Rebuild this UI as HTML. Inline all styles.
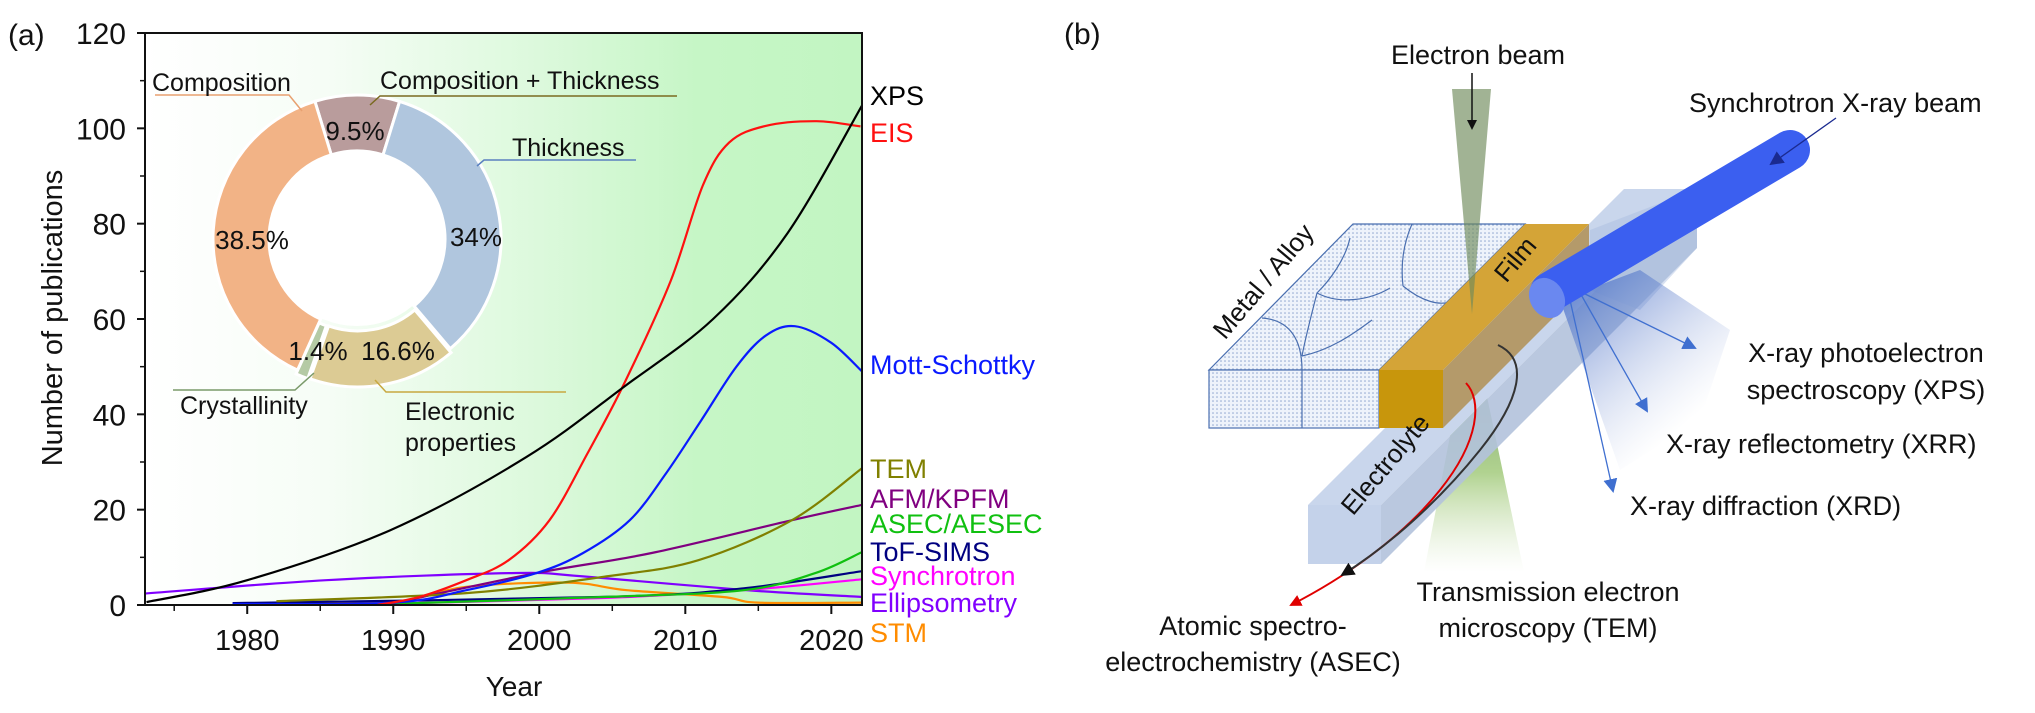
<!DOCTYPE html>
<html><head><meta charset="utf-8">
<style>
html,body{margin:0;padding:0;background:#fff;}
svg{display:block;font-family:"Liberation Sans",Arial,sans-serif;}
</style></head>
<body>
<svg id="fig" width="2035" height="713" viewBox="0 0 2035 713" xmlns="http://www.w3.org/2000/svg">
<defs id="mainDefs">
<linearGradient id="bgGrad" x1="145" y1="0" x2="862" y2="0" gradientUnits="userSpaceOnUse">
<stop offset="0" stop-color="#ffffff"/>
<stop offset="0.25" stop-color="#f6fdf6"/>
<stop offset="0.55" stop-color="#dcf9dc"/>
<stop offset="0.77" stop-color="#c6f6c6"/>
<stop offset="1" stop-color="#c2f5c2"/>
</linearGradient>
<clipPath id="plotClip"><rect x="145" y="33" width="717" height="572"/></clipPath>
<pattern id="dots" width="4" height="4" patternUnits="userSpaceOnUse">
<rect width="4" height="4" fill="#eef3fb"/><circle cx="1" cy="1" r="0.8" fill="#8fa6cf"/>
</pattern>
<linearGradient id="temGrad" x1="0" y1="373" x2="0" y2="572" gradientUnits="userSpaceOnUse">
<stop offset="0" stop-color="#5a8a4a" stop-opacity="0.8"/>
<stop offset="0.5" stop-color="#8fbf60" stop-opacity="0.7"/>
<stop offset="1" stop-color="#c8e0b0" stop-opacity="0"/>
</linearGradient>
<linearGradient id="fanGrad" x1="1579" y1="291" x2="1690" y2="420" gradientUnits="userSpaceOnUse">
<stop offset="0" stop-color="#4a70c8" stop-opacity="0.7"/>
<stop offset="1" stop-color="#a8b8e0" stop-opacity="0"/>
</linearGradient>
<marker id="arrBlack" markerWidth="10" markerHeight="10" refX="8" refY="5" orient="auto" markerUnits="userSpaceOnUse"><path d="M0,0 L10,5 L0,10 z" fill="#111"/></marker>
<marker id="arrRed" markerWidth="12" markerHeight="12" refX="10" refY="6" orient="auto" markerUnits="userSpaceOnUse"><path d="M0,0 L12,6 L0,12 z" fill="#e00000"/></marker>
<marker id="arrDk" markerWidth="14" markerHeight="14" refX="12" refY="7" orient="auto" markerUnits="userSpaceOnUse"><path d="M0,0 L14,7 L0,14 z" fill="#111"/></marker>
<marker id="arrBlue" markerWidth="14" markerHeight="14" refX="12" refY="7" orient="auto" markerUnits="userSpaceOnUse"><path d="M0,0 L14,7 L0,14 z" fill="#3f6fd0"/></marker>
<marker id="arrNavy" markerWidth="14" markerHeight="14" refX="12" refY="7" orient="auto" markerUnits="userSpaceOnUse"><path d="M0,0 L14,7 L0,14 z" fill="#1a2a90"/></marker>
</defs>

<g id="panelA">
<text x="8" y="45" font-size="30" fill="#111">(a)</text>
<rect x="145" y="33" width="717" height="572" fill="url(#bgGrad)"/>
<g id="gCurves" clip-path="url(#plotClip)"></g>
<g id="gDonut"></g>
<rect x="145" y="33" width="717" height="572" fill="none" stroke="#111" stroke-width="2"/>
<g id="gAxes"></g>
<text x="0" y="0" transform="translate(62,318) rotate(-90)" text-anchor="middle" font-size="29" fill="#111">Number of publications</text>
<text x="514" y="696" text-anchor="middle" font-size="28" fill="#111">Year</text>
<g id="gLabels"></g>
<text id="errText" x="150" y="700" font-size="14" fill="#c00"></text>
</g>

<g id="panelB">
<text x="1064" y="44" font-size="30" fill="#111">(b)</text>
<text x="1478" y="64" text-anchor="middle" font-size="27" fill="#111">Electron beam</text>
<polygon points="1462,373 1482,373 1524,572 1424,572" fill="url(#temGrad)"/>
<polygon points="1308,505 1381,505 1697,189 1624,189" fill="#c9d6ec"/>
<polygon points="1381,505 1697,189 1697,248 1381,564" fill="#b3c2dc" opacity="0.9"/>
<rect x="1308" y="505" width="73" height="59" fill="#c4d2ea"/>
<polygon points="1590,230 1697,189 1697,248 1640,310 1590,290" fill="#a9bde0" opacity="0.45"/>
<polygon points="1353,224 1525,224 1379,370 1209,370" fill="url(#dots)" stroke="#4a6fb0" stroke-width="1.2"/>
<rect x="1209" y="370" width="170" height="58" fill="url(#dots)" stroke="#4a6fb0" stroke-width="1.2"/>
<line x1="1302" y1="370" x2="1302" y2="428" stroke="#4a6fb0" stroke-width="1.2"/>
<g fill="none" stroke="#4a6fb0" stroke-width="1.2">
<path d="M1302,370 C1302,340 1290,320 1262,318"/>
<path d="M1302,356 C1330,350 1352,335 1372,320"/>
<path d="M1317,293 C1340,305 1370,300 1390,288"/>
<path d="M1317,293 C1310,320 1305,340 1302,356"/>
<path d="M1403,286 C1400,260 1405,240 1412,224"/>
<path d="M1403,286 C1420,300 1440,308 1455,300"/>
<path d="M1350,238 C1345,260 1330,280 1317,293"/>
</g>
<polygon points="1525,224 1589,224 1443,370 1379,370" fill="#d4a437"/>
<polygon points="1443,370 1589,224 1589,282 1443,428" fill="#b49a6a"/>
<rect x="1379" y="370" width="64" height="58" fill="#c8960c"/>
<polygon points="1452,89 1491,89 1472,314" fill="#6f8a5a" opacity="0.65"/>
<line x1="1472" y1="73" x2="1472" y2="128" stroke="#111" stroke-width="1.5" marker-end="url(#arrBlack)"/>
<path d="M1466,383 C1482,400 1480,440 1440,490 C1400,540 1340,580 1291,605" fill="none" stroke="#e00000" stroke-width="2" marker-end="url(#arrRed)"/>
<path d="M1498,345 C1530,360 1520,400 1480,450 C1440,500 1390,545 1342,575" fill="none" stroke="#333" stroke-width="2" marker-end="url(#arrDk)"/>
<polygon points="1560,300 1640,270 1730,330 1700,420 1620,470" fill="url(#fanGrad)"/>
<line x1="1579" y1="291" x2="1695" y2="348" stroke="#3f6fd0" stroke-width="1.3" marker-end="url(#arrBlue)"/>
<line x1="1579" y1="291" x2="1647" y2="411" stroke="#3f6fd0" stroke-width="1.3" marker-end="url(#arrBlue)"/>
<line x1="1570" y1="300" x2="1613" y2="491" stroke="#3f6fd0" stroke-width="1.3" marker-end="url(#arrBlue)"/>
<line x1="1550" y1="292" x2="1790" y2="150" stroke="#3b5ff0" stroke-width="40" stroke-linecap="round"/>
<ellipse cx="1547" cy="298" rx="17" ry="21" fill="#6a88f0" transform="rotate(-30 1547 298)"/>
<line x1="1836" y1="118" x2="1771" y2="164" stroke="#1a2a90" stroke-width="1.3" marker-end="url(#arrNavy)"/>
<text transform="translate(1270,287) rotate(-50)" text-anchor="middle" font-size="26" fill="#111">Metal / Alloy</text>
<text transform="translate(1522,265) rotate(-50)" text-anchor="middle" font-size="26" fill="#111">Film</text>
<text transform="translate(1392,470) rotate(-50)" text-anchor="middle" font-size="26" fill="#111">Electrolyte</text>
<g font-size="27" fill="#111">
<text x="1689" y="112">Synchrotron X-ray beam</text>
<text x="1866" y="362" text-anchor="middle">X-ray photoelectron</text>
<text x="1866" y="399" text-anchor="middle">spectroscopy (XPS)</text>
<text x="1666" y="453">X-ray reflectometry (XRR)</text>
<text x="1630" y="515">X-ray diffraction (XRD)</text>
<text x="1548" y="601" text-anchor="middle">Transmission electron</text>
<text x="1548" y="637" text-anchor="middle">microscopy (TEM)</text>
<text x="1253" y="635" text-anchor="middle">Atomic spectro-</text>
<text x="1253" y="671" text-anchor="middle">electrochemistry (ASEC)</text>
</g>
</g>
</svg>

<script>
var xDomain = [1973, 2022.1];
var yDomain = [0, 120];
var yTicks = [0, 20, 40, 60, 80, 100, 120];
var xTicks = [1980, 1990, 2000, 2010, 2020];
var seriesNames = ["XPS","EIS","Mott-Schottky","TEM","AFM/KPFM","ASEC/AESEC","ToF-SIMS","Synchrotron","Ellipsometry","STM"];
var seriesColors = ["#000000","#ff1010","#0a1aff","#808000","#800080","#10c010","#000080","#ff00ff","#8000ff","#ff8c00"];
var xpsYears = [1973.1,1980,1989.8,1999.1,2005.9,2011.9,2017,2022.1];
var xpsValues = [0.6,5.2,15.7,31,46,60,78,104.8];
var eisYears = [1988.9,1991.8,1995,1997.9,2000.7,2003.3,2005.9,2009,2011.2,2013,2015.5,2019,2022];
var eisValues = [0,1.7,5.2,9.4,17.8,31.8,47,68,88,97,100.5,101.5,100.4];
var mottYears = [1979,1990,1995,1999.8,2003,2006.2,2008.7,2011.1,2013.5,2015.5,2017.5,2020,2022.1];
var mottValues = [0.2,0.5,3.1,6.7,10.9,17.8,27.7,38.8,50,56.5,58.5,55,49];
var temYears = [1982,1995,2004.6,2010.9,2017.3,2022.1];
var temValues = [0.8,2.5,6,9.4,17.8,28.7];
var afmYears = [1990,1999.8,2007.7,2017.3,2022.1];
var afmValues = [0.4,6.7,10.9,17.8,21];
var asecYears = [1989.6,2004.6,2014,2018.9,2022.1];
var asecValues = [0.2,1.7,3.1,6.7,11.1];
var tofYears = [1979,2004.6,2014,2022.1];
var tofValues = [0.4,1.7,3.5,7.1];
var syncYears = [1990,2004.6,2014,2022.1];
var syncValues = [0.3,1.5,3.1,5.4];
var ellipYears = [1972.6,1985.4,1998.1,2003,2014.2,2022.1];
var ellipValues = [2.3,5.2,6.7,6,3.1,1.7];
var stmYears = [1982,1990,1995,2002,2006,2012.5,2015,2022.1];
var stmValues = [0.5,0.6,3.8,4.7,3.1,1.7,0.5,0.5];
var donutNames = ["Composition + Thickness","Thickness","Electronic properties","Crystallinity","Composition"];
var donutValues = [9.5,34,16.6,1.4,38.5];
var donutLabels = ["9.5%","34%","16.6%","1.4%","38.5%"];
var donutColors = ["#b99c9c","#b0c6de","#dccb94","#b5caa5","#f2b386"];

var SVGNS = "http://www.w3.org/2000/svg";
var PL=145, PR=862, PT=33, PB=605;
function xS(v){return PL+(v-xDomain[0])/(xDomain[1]-xDomain[0])*(PR-PL);}
function yS(v){return PB-(v-yDomain[0])/(yDomain[1]-yDomain[0])*(PB-PT);}
function mk(tag, attrs, parent){var e=document.createElementNS(SVGNS,tag);for(var k in attrs){e.setAttribute(k,String(attrs[k]));}parent.appendChild(e);return e;}
function slug(s){return s.toLowerCase().replace(/[^a-z]+/g,'-');}
function showErr(m){var et=document.getElementById("errText");if(et){et.textContent=String(m);}}

function smoothPath(pts){
  var d="M"+pts[0][0].toFixed(1)+","+pts[0][1].toFixed(1);
  for(var i=0;i<pts.length-1;i++){
    var p0=pts[i-1]||pts[i], p1=pts[i], p2=pts[i+1], p3=pts[i+2]||p2;
    var c1=[p1[0]+(p2[0]-p0[0])/6, p1[1]+(p2[1]-p0[1])/6];
    var c2=[p2[0]-(p3[0]-p1[0])/6, p2[1]-(p3[1]-p1[1])/6];
    d+=" C"+c1[0].toFixed(1)+","+c1[1].toFixed(1)+" "+c2[0].toFixed(1)+","+c2[1].toFixed(1)+" "+p2[0].toFixed(1)+","+p2[1].toFixed(1);
  }
  return d;
}

var allYears=[xpsYears,eisYears,mottYears,temYears,afmYears,asecYears,tofYears,syncYears,ellipYears,stmYears];
var allValues=[xpsValues,eisValues,mottValues,temValues,afmValues,asecValues,tofValues,syncValues,ellipValues,stmValues];

try {
  var cg=document.getElementById("gCurves");
  for(var q=9;q>=0;q--){
    var pts=[];
    for(var j=0;j<allYears[q].length;j++){pts.push([xS(allYears[q][j]),yS(allValues[q][j])]);}
    var p=mk("path",{d:smoothPath(pts),fill:"none",stroke:seriesColors[q],"stroke-width":2.2},cg);
    
    
  }
} catch(e){showErr("curves: "+e);}

try {
  var labelYs = [95,132,364,468,498,523,551,575,602,632];
  var lg=document.getElementById("gLabels");
  for(var i=0;i<seriesNames.length;i++){
    var t=mk("text",{x:870,y:labelYs[i]+10,"font-size":27,fill:seriesColors[i]},lg);
    t.textContent=seriesNames[i];
    
    
  }
} catch(e){showErr("labels: "+e);}

try {
  var ag=document.getElementById("gAxes");
  for(var i=0;i<yTicks.length;i++){
    var y=yS(yTicks[i]);
    var l=mk("line",{x1:PL-8,x2:PL,y1:y,y2:y,stroke:"#111","stroke-width":2},ag);
    
    
    var t=mk("text",{x:126,y:y+11,"text-anchor":"end","font-size":30,fill:"#111"},ag);
    t.textContent=String(yTicks[i]);
    
    
  }
  for(var v=10;v<120;v+=20){var yy=yS(v);mk("line",{x1:PL-5,x2:PL,y1:yy,y2:yy,stroke:"#111","stroke-width":1.5},ag);}
  for(var i=0;i<xTicks.length;i++){
    var x=xS(xTicks[i]);
    var l=mk("line",{x1:x,x2:x,y1:PB,y2:PB+9,stroke:"#111","stroke-width":2},ag);
    
    
    var t=mk("text",{x:x,y:650,"text-anchor":"middle","font-size":29,fill:"#111"},ag);
    t.textContent=String(xTicks[i]);
    
    
  }
  for(var v=1975;v<2022;v+=10){var xx=xS(v);mk("line",{x1:xx,x2:xx,y1:PB,y2:PB+6,stroke:"#111","stroke-width":1.5},ag);}
} catch(e){showErr("axes: "+e);}

try {
  var dg=document.getElementById("gDonut");
  var CX=357, CY=239, RO=144, RI=88;
  var total=0; for(var i=0;i<donutValues.length;i++){total+=donutValues[i];}
  var acc=-17;
  var explode=[0,0,4,4,0];
  function polar(r,deg){var a=(deg-90)*Math.PI/180;return [CX+r*Math.cos(a),CY+r*Math.sin(a)];}
  for(var i=0;i<donutValues.length;i++){
    var a0=acc, a1=acc+donutValues[i]/total*360; acc=a1;
    var ma=((a0+a1)/2-90)*Math.PI/180;
    var ox=explode[i]*Math.cos(ma), oy=explode[i]*Math.sin(ma);
    var p1=polar(RO,a0),p2=polar(RO,a1),p3=polar(RI,a1),p4=polar(RI,a0);
    var large=(a1-a0)>180?1:0;
    var dd="M"+p1[0]+","+p1[1]+" A"+RO+","+RO+" 0 "+large+" 1 "+p2[0]+","+p2[1]+" L"+p3[0]+","+p3[1]+" A"+RI+","+RI+" 0 "+large+" 0 "+p4[0]+","+p4[1]+" Z";
    var s=mk("path",{d:dd,fill:donutColors[i],stroke:"#fff","stroke-width":3,transform:"translate("+ox+","+oy+")"},dg);
    
    
  }
  mk("circle",{cx:CX,cy:CY,r:RI-1,fill:"#fff"},dg);
  var pctPos=[[355,140],[476,246],[398,360],[318,360],[252,249]];
  for(var i=0;i<donutLabels.length;i++){
    var t=mk("text",{x:pctPos[i][0],y:pctPos[i][1],"text-anchor":"middle","font-size":26,fill:"#111"},dg);
    t.textContent=donutLabels[i];
    
    
  }
  var callouts=[
    {txt:["Composition"],x:152,y:91,line:"M155,95 L289,95 L302,111",c:"#e8a070"},
    {txt:["Composition + Thickness"],x:380,y:89,line:"M677,96 L380,96 L370,105",c:"#7a6a20"},
    {txt:["Thickness"],x:512,y:156,line:"M636,160 L484,160 L477,166",c:"#5a80c0"},
    {txt:["Crystallinity"],x:180,y:414,line:"M173,390 L295,390 L314,373",c:"#7a9a6a"},
    {txt:["Electronic","properties"],x:405,y:420,line:"M566,392 L386,392 L375,380",c:"#c8a840"}
  ];
  for(var i=0;i<callouts.length;i++){
    var c=callouts[i];
    var l=mk("path",{d:c.line,fill:"none",stroke:c.c,"stroke-width":1.5},dg);
    
    
    for(var k=0;k<c.txt.length;k++){
      var t=mk("text",{x:c.x,y:c.y+k*31,"font-size":25,fill:"#111"},dg);
      t.textContent=c.txt[k];
      
      
    }
  }
} catch(e){showErr("donut: "+e);}
</script>
</body></html>
